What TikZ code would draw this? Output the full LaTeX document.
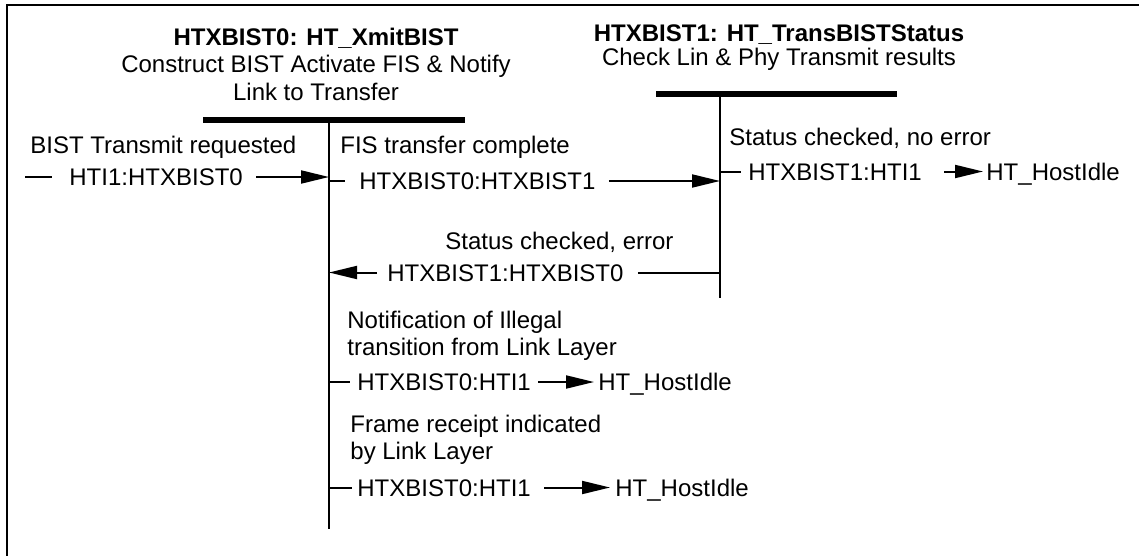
\documentclass[tikz,border=0pt]{standalone}
\usepackage{fontspec}
\setmainfont{Liberation Sans}
\usepackage{tikz}
\usetikzlibrary{arrows.meta}

\begin{document}
\begin{tikzpicture}[
    x=0.5pt,y=-0.5pt,
    every node/.style={font=\fontsize{12}{13.5}\selectfont},
    head/.style={anchor=base,align=center,inner sep=0pt},
    cond/.style={anchor=base west,align=left,inner sep=0pt},
    msg/.style={anchor=west,inner sep=0pt,text height=8.6pt,text depth=0pt},
    bar/.style={line width=2.75pt},
    life/.style={line width=1pt},
    ln/.style={line width=1pt},
    arr/.style={-{Triangle[length=14pt,width=6.5pt]},line width=1pt}
  ]
  \useasboundingbox (0,0) rectangle (1139,556);
  \draw[line width=1pt] (7,556) -- (7,5) -- (1139,5);

  % states (base = last line)
  \node[head,font=\fontsize{12}{13.75}\selectfont] (xmit) at (316,100)
        {\textbf{HTXBIST0: HT\_XmitBIST}\\
        Construct BIST Activate FIS \& Notify\\Link to Transfer};
  \node[head,font=\fontsize{12}{12}\selectfont] (trans) at (779,66)
        {\textbf{HTXBIST1: HT\_TransBISTStatus}\\Check Lin \& Phy Transmit results};
  \draw[bar] (203,120) -- (465,120);
  \draw[bar] (656,94) -- (897,94);
  \coordinate (life0) at (329,120);
  \coordinate (life1) at (720,94);
  \draw[life] (life0) -- ++(0,409);
  \draw[life] (life1) -- ++(0,204);

  % conditions
  \node[cond] (c1) at (30,153) {BIST Transmit requested};
  \node[cond] (c2) at (340,153) {FIS transfer complete};
  \node[cond] (c3) at (729,145) {Status checked, no error};
  \node[cond] (c4) at (445,249) {Status checked, error};
  \node[cond] (c5) at (347,355) {Notification of Illegal\\transition from Link Layer};
  \node[cond] (c6) at (350,459) {Frame receipt indicated\\by Link Layer};

  % transitions
  \coordinate (m1s) at (25,177);
  \node[msg] (m1) at (69,177) {HTI1:HTXBIST0};
  \draw[ln,shorten >=8.5pt] (m1s) -- (m1.west);
  \draw[arr,shorten <=6.5pt] (m1.east) -- (m1.east -| life0);

  \node[msg] (m2) at (359,181) {HTXBIST0:HTXBIST1};
  \draw[ln,shorten >=7pt] (m2.west -| life0) -- (m2.west);
  \draw[arr,shorten <=6.5pt] (m2.east) -- (m2.east -| life1);

  \node[msg] (m3) at (748,171.5) {HTXBIST1:HTI1};
  \node[msg] (idle1) at (986,171.5) {HT\_HostIdle};
  \draw[ln,shorten >=3.5pt] (m3.west -| life1) -- (m3.west);
  \draw[arr,shorten <=11pt,shorten >=1.5pt] (m3.east) -- (idle1.west);

  \node[msg] (m4) at (387,272.5) {HTXBIST1:HTXBIST0};
  \draw[ln,shorten <=7pt] (m4.east) -- (m4.east -| life1);
  \draw[arr,shorten <=5pt] (m4.west) -- (m4.west -| life0);

  \node[msg] (m5) at (357,382) {HTXBIST0:HTI1};
  \node[msg] (idle2) at (598,382) {HT\_HostIdle};
  \draw[ln,shorten >=3.5pt] (m5.west -| life0) -- (m5.west);
  \draw[arr,shorten <=3.5pt,shorten >=2pt] (m5.east) -- (idle2.west);

  \node[msg] (m6) at (357,487.5) {HTXBIST0:HTI1};
  \node[msg] (idle3) at (615,487.5) {HT\_HostIdle};
  \draw[ln,shorten >=2.5pt] (m6.west -| life0) -- (m6.west);
  \draw[arr,shorten <=6.5pt,shorten >=2.5pt] (m6.east) -- (idle3.west);
\end{tikzpicture}
\end{document}
